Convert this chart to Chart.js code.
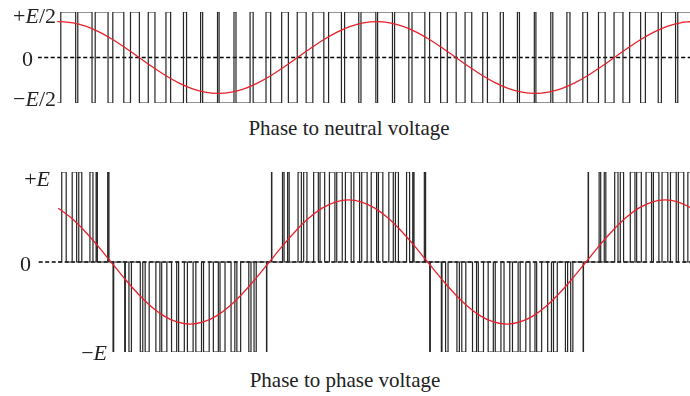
<!DOCTYPE html>
<html>
<head>
<meta charset="utf-8">
<script src="https://cdn.jsdelivr.net/npm/chart.js@4.4.1/dist/chart.umd.min.js"></script>
<style>
  body { margin: 0; background: #fff; width: 690px; height: 396px; position: relative; overflow: hidden; }
  canvas { position: absolute; left: 0; }
  .title {
    position: absolute; left: 0; width: 690px; text-align: center;
    font-family: "Liberation Serif", "Times New Roman", serif; font-size: 21px; color: #222;
    line-height: 24px;
  }
</style>
</head>
<body>
<canvas id="neutralChart" width="690" height="115" style="top:0px"></canvas>
<div class="title" id="titleTop" style="top:116px; left:4px"></div>
<canvas id="phaseChart" width="690" height="205" style="top:160px"></canvas>
<div class="title" id="titleBottom" style="top:368px"></div>
<script>
// angle in degrees of the fundamental
const titles = ["Phase to neutral voltage", "Phase to phase voltage"];

// phase to neutral: rising / falling edges of the switching signal (±E/2)
const topRise = [1.0, 20.3, 40.1, 60.1, 80.2, 100.4, 120.5, 140.4, 159.9, 179.1, 197.8, 216.1, 234.2, 252.0, 269.7, 287.4, 305.3, 323.5, 342.1,
  361.0, 380.3, 400.1, 420.1, 440.2, 460.4, 480.5, 500.4, 519.9, 539.1, 557.8, 576.1, 594.2, 612.0, 629.7, 647.4, 665.3, 683.5, 702.1];
const topFall = [17.9, 36.5, 54.7, 72.6, 90.3, 108.0, 125.8, 143.9, 162.2, 180.9, 200.1, 219.6, 239.5, 259.6, 279.8, 299.9, 319.9, 339.6, 359.0,
  377.9, 396.5, 414.7, 432.6, 450.3, 468.0, 485.8, 503.9, 522.2, 540.9, 560.1, 579.6, 599.5, 619.6, 639.8, 659.9, 679.9, 699.6, 719.0];

// phase to neutral: reference sine (units of E/2)
const topSineX = [-3, 0, 15, 30, 45, 60, 75, 90, 105, 120, 135, 150, 165, 180, 195, 210, 225, 240, 255, 270, 285, 300, 315, 330, 345,
  360, 375, 390, 405, 420, 435, 450, 465, 480, 495, 510, 525, 540, 555, 570, 585, 600, 615, 630, 645, 660, 675, 690, 705, 718];
const topSineY = [0.789, 0.79, 0.763, 0.684, 0.559, 0.395, 0.204, 0, -0.204, -0.395, -0.559, -0.684, -0.763, -0.79, -0.763, -0.684, -0.559, -0.395, -0.204, 0, 0.204, 0.395, 0.559, 0.684, 0.763,
  0.79, 0.763, 0.684, 0.559, 0.395, 0.204, 0, -0.204, -0.395, -0.559, -0.684, -0.763, -0.79, -0.763, -0.684, -0.559, -0.395, -0.204, 0, 0.204, 0.395, 0.559, 0.684, 0.763, 0.789];

// phase to phase: pulses (start, end, level in units of E)
const botStart = [1.00, 12.88, 20.35, 33.05, 40.07, 53.24, 59.34, 72.58, 77.41, 90.31, 95.83, 108.02, 114.64, 125.82, 133.86, 143.86, 153.46, 162.20, 173.37, 180.95,
  193.49, 200.10, 213.67, 219.64, 233.81, 239.50, 251.98, 257.81, 269.69, 276.05, 287.42, 294.65, 305.33, 313.67, 323.51, 333.09, 342.06, 352.86,
  361.00, 372.88, 380.35, 393.05, 400.07, 413.24, 419.34, 432.58, 437.41, 450.31, 455.83, 468.02, 474.64, 485.82, 493.86, 503.86, 513.46, 522.20, 533.37, 540.95,
  553.49, 560.10, 573.67, 579.64, 593.81, 599.50, 611.98, 617.81, 629.69, 636.05, 647.42, 654.65, 665.33, 673.67, 683.51, 693.09, 702.06, 712.86];
const botEnd = [6.06, 17.94, 23.79, 36.49, 41.50, 54.67, 60.06, 73.30, 80.21, 93.11, 100.40, 112.59, 120.50, 131.68, 140.36, 150.36, 159.90, 168.64, 179.05, 186.63,
  197.80, 204.41, 216.14, 222.11, 234.18, 239.87, 253.77, 259.60, 273.43, 279.79, 292.71, 299.94, 311.59, 319.93, 330.07, 339.65, 348.20, 359.00,
  366.06, 377.94, 383.79, 396.49, 401.50, 414.67, 420.06, 433.30, 440.21, 453.11, 460.40, 472.59, 480.50, 491.68, 500.36, 510.36, 519.90, 528.64, 539.05, 546.63,
  557.80, 564.41, 576.14, 582.11, 594.18, 599.87, 613.77, 619.60, 633.43, 639.79, 652.71, 659.94, 671.59, 679.93, 690.07, 699.65, 708.20, 719.00];
const botLevel = [1, 1, 1, 1, 1, 1, -1, -1, -1, -1, -1, -1, -1, -1, -1, -1, -1, -1, -1, -1,
  -1, -1, -1, -1, -1, 1, 1, 1, 1, 1, 1, 1, 1, 1, 1, 1, 1, 1,
  1, 1, 1, 1, 1, 1, -1, -1, -1, -1, -1, -1, -1, -1, -1, -1, -1, -1, -1, -1,
  -1, -1, -1, -1, -1, 1, 1, 1, 1, 1, 1, 1, 1, 1, 1, 1, 1, 1];

// phase to phase: fundamental (units of E)
const botSineX = [-3, 12, 27, 42, 57, 72, 87, 102, 117, 132, 147, 162, 177, 192, 207, 222, 237, 252, 267, 282, 297, 312, 327, 342,
  357, 372, 387, 402, 417, 432, 447, 462, 477, 492, 507, 522, 537, 552, 567, 582, 597, 612, 627, 642, 657, 672, 687, 702, 717];
const botSineY = [0.598, 0.488, 0.345, 0.179, 0, -0.179, -0.345, -0.488, -0.598, -0.666, -0.69, -0.666, -0.598, -0.488, -0.345, -0.179, 0, 0.179, 0.345, 0.488, 0.598, 0.666, 0.69, 0.666,
  0.598, 0.488, 0.345, 0.179, 0, -0.179, -0.345, -0.488, -0.598, -0.666, -0.69, -0.666, -0.598, -0.488, -0.345, -0.179, 0, 0.179, 0.345, 0.488, 0.598, 0.666, 0.69, 0.666, 0.598];

const topTickValues = [1, 0, -1];
const topTickLabels = ["+E/2", "0", "\u2212E/2"];
const botTickValues = [1, 0, -1];
const botTickLabels = ["+E", "0", "\u2212E"];

document.getElementById("titleTop").textContent = titles[0];
document.getElementById("titleBottom").textContent = titles[1];

// y labels with an italic E, placed through the y scale
const axisLabels = {
  id: "axisLabels",
  afterDraw(chart, args, opts) {
    const ctx = chart.ctx;
    const yScale = chart.scales.y;
    ctx.save();
    ctx.fillStyle = "#222";
    ctx.textBaseline = "middle";
    opts.values.forEach((v, i) => {
      const text = opts.labels[i];
      const parts = text.split(/(E)/).filter(s => s.length);
      const fontFor = s => (s === "E" ? "italic " : "") + opts.size + "px \"Liberation Serif\", serif";
      let width = 0;
      parts.forEach(s => { ctx.font = fontFor(s); width += ctx.measureText(s).width; });
      let x = opts.right[i] - width;
      const y = yScale.getPixelForValue(v) + opts.dy[i];
      parts.forEach(s => {
        ctx.font = fontFor(s);
        ctx.fillText(s, x, y);
        x += ctx.measureText(s).width;
      });
    });
    ctx.restore();
  }
};

const stepTop = [{ x: -3, y: -1 }];
topRise.forEach((r, i) => {
  stepTop.push({ x: r, y: 1 });
  stepTop.push({ x: topFall[i], y: -1 });
});

const stepBot = [{ x: -3, y: 0 }];
botStart.forEach((s, i) => {
  stepBot.push({ x: s, y: botLevel[i] });
  stepBot.push({ x: botEnd[i], y: 0 });
});

function makeChart(id, cfg) {
  return new Chart(document.getElementById(id), {
    type: "line",
    data: {
      datasets: [
        {
          data: cfg.sine,
          borderColor: "#e8212b",
          borderWidth: 1.3,
          tension: 0.4,
          pointRadius: 0,
        },
        {
          data: cfg.steps,
          borderColor: "#262626",
          borderWidth: 1.2,
          stepped: true,
          pointRadius: 0,
        },
        {
          data: [{ x: -40, y: 0 }, { x: 730, y: 0 }],
          borderColor: "#000",
          borderWidth: 1.6,
          borderDash: [4, 2.5],
          pointRadius: 0,
        },
      ],
    },
    options: {
      responsive: false,
      animation: false,
      layout: { padding: cfg.padding },
      scales: {
        x: { type: "linear", min: cfg.xMin, max: cfg.xMax, display: false },
        y: { min: -1, max: 1, display: false },
      },
      plugins: {
        legend: { display: false },
        tooltip: { enabled: false },
        axisLabels: cfg.labels,
      },
    },
    plugins: [axisLabels],
  });
}

makeChart("neutralChart", {
  sine: topSineX.map((x, i) => ({ x, y: topSineY[i] })),
  steps: stepTop,
  padding: { left: 38, right: 0, top: 12, bottom: 12 },
  xMin: -24.9,
  xMax: 716,
  labels: { values: topTickValues, labels: topTickLabels, size: 22, right: [56, 33, 56], dy: [5, 3, -3] },
});

makeChart("phaseChart", {
  sine: botSineX.map((x, i) => ({ x, y: botSineY[i] })),
  steps: stepBot,
  padding: { left: 38, right: 0, top: 12, bottom: 13 },
  xMin: -26,
  xMax: 715.3,
  labels: { values: botTickValues, labels: botTickLabels, size: 22, right: [50, 31, 107], dy: [8, 3, 2] },
});
</script>
</body>
</html>
